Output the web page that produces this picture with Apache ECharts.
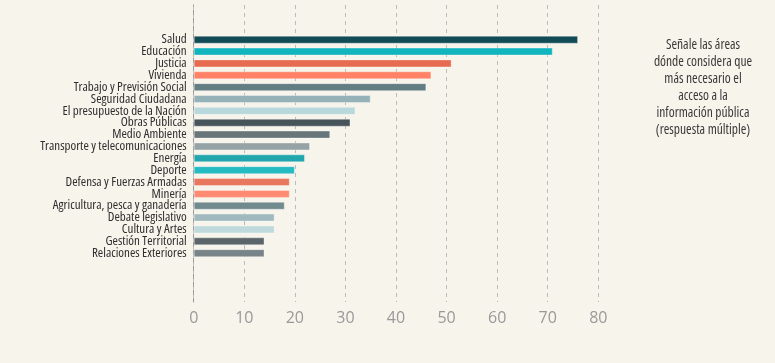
<!DOCTYPE html>
<html><head><meta charset="utf-8">
<script src="https://cdn.jsdelivr.net/npm/echarts@6/dist/echarts.min.js"></script>
<style>html,body{margin:0;padding:0;background:#F7F4EC;}#c{width:775px;height:363px;}</style>
</head><body><div id="c"></div>
<script>
const categories = ["Salud","Educación","Justicia","Vivienda","Trabajo y Previsión Social","Seguridad Ciudadana","El presupuesto de la Nación","Obras Públicas","Medio Ambiente","Transporte y telecomunicaciones","Energía","Deporte","Defensa y Fuerzas Armadas","Minería","Agricultura, pesca y ganadería","Debate legislativo","Cultura y Artes","Gestión Territorial","Relaciones Exteriores"];
const values = [76,71,51,47,46,35,32,31,27,23,22,20,19,19,18,16,16,14,14];
const colors = ["#124B56","#12B5BE","#E76B50","#FF8266","#637E83","#95B2B8","#B8D8DC","#47555B","#687579","#96A3A6","#22A6AD","#25BBC3","#E8775D","#FF8A72","#718A8E","#A0B9BE","#BFD9DD","#5A6669","#788487"];
const xTicks = [0,80,10];
const note = "Señale las áreas\ndónde considera que\nmás necesario el\nacceso a la\ninformación pública\n(respuesta múltiple)";

const chart = echarts.init(document.getElementById('c'));
const n = categories.length;
const slot = 11.86;
chart.setOption({
  backgroundColor: '#F7F4EC',
  animation: false,
  graphic: [{type:'text', x: 703, y: 37, style:{text: note, align:'center', verticalAlign:'top', font:'condensed 13.5px "Open Sans", sans-serif', fill:'#3a3a3a', lineHeight:17}}],
  grid: [
    {left: 193.7, width: 404.6, top: 5, height: 297, outerBoundsMode:'none', containLabel:false},
    {left: 193.7, width: 404.6, top: 39.7 - slot/2, height: slot*n, outerBoundsMode:'none', containLabel:false}
  ],
  xAxis: [
    {gridIndex:0, type:'value', min:xTicks[0], max:xTicks[1], interval:xTicks[2],
     axisLine:{show:false}, axisTick:{show:false},
     axisLabel:{color:'#999', fontSize:16, fontFamily:'"Open Sans", sans-serif', margin:8},
     splitLine:{show:true, lineStyle:{color:'#bbb', type:[4,4], width:1}}},
    {gridIndex:1, type:'value', min:xTicks[0], max:xTicks[1], show:false}
  ],
  yAxis: [
    {gridIndex:0, type:'value', min:0, max:1, axisLabel:{show:false}, axisTick:{show:false}, splitLine:{show:false},
     axisLine:{show:true, lineStyle:{color:'#999', type:[4,4], width:1}}},
    {gridIndex:1, type:'category', data:categories, inverse:true,
     axisLine:{show:false}, axisTick:{show:false},
     axisLabel:{color:'#2e2e2e', fontSize:13, fontStyle:'condensed', fontFamily:'"Open Sans", sans-serif', margin:7, interval:0}}
  ],
  series: [{
    type:'bar', xAxisIndex:1, yAxisIndex:1, barWidth:8,
    data: values.map((v,i)=>({value:v, itemStyle:{color:colors[i], borderColor:'rgba(255,255,255,0.35)', borderWidth:1}}))
  }]
});
</script></body></html>
